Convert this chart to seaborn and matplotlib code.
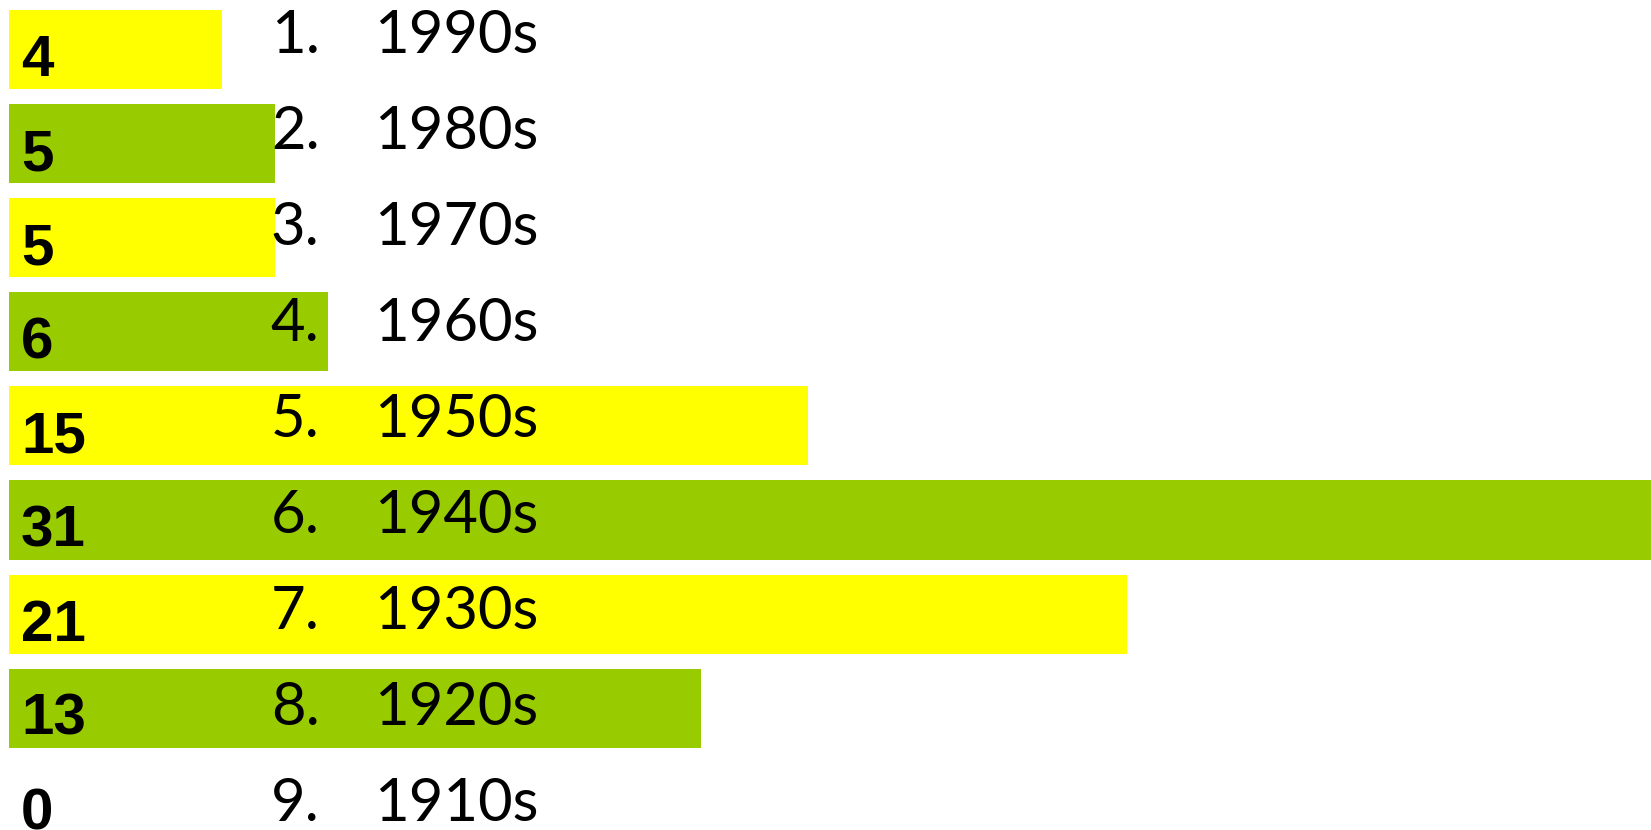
import matplotlib
matplotlib.use("Agg")
import matplotlib.pyplot as plt
import matplotlib.transforms as mtransforms
import seaborn as sns

# data, top to bottom as shown
ranks = ["1.", "2.", "3.", "4.", "5.", "6.", "7.", "8.", "9."]
decades = ["1990s", "1980s", "1970s", "1960s", "1950s", "1940s", "1930s", "1920s", "1910s"]
counts = [4, 5, 5, 6, 15, 31, 21, 13, 0]
bar_colors = ["#FFFF00", "#99CC00"]

palette = {d: bar_colors[i % 2] for i, d in enumerate(decades)}

fig = plt.figure(figsize=(16.51, 8.30), dpi=100)
ax = fig.add_axes([0, 0, 1, 1])

sns.barplot(x=counts, y=decades, hue=decades, palette=palette, order=decades,
            orient="h", width=0.84, linewidth=0, saturation=1, legend=False, ax=ax)

ax.set_xlim(-0.169, 30.84)
ax.set_ylim(8.294, -0.526)
ax.axis("off")

blend = mtransforms.blended_transform_factory(fig.transFigure, ax.transData)

# value labels on the left, bold
for i, v in enumerate(counts):
    ax.text(0.0127, i + 0.284, str(v), transform=blend, ha="left", va="baseline",
            fontsize=42, fontweight="bold", color="black",
            family=["Liberation Sans Narrow", "Liberation Sans", "DejaVu Sans"])

# numbered decade list, slightly wider spacing than the bars
for i, (r, d) in enumerate(zip(ranks, decades)):
    y = i * 1.02 + 0.04
    ax.text(0.164, y, r, transform=blend, ha="left", va="baseline",
            fontsize=43, color="black", family=["Lato", "DejaVu Sans"])
    ax.text(0.2266, y, d, transform=blend, ha="left", va="baseline",
            fontsize=43, color="black", family=["Lato", "DejaVu Sans"])

fig.savefig("out.png", dpi=100)
